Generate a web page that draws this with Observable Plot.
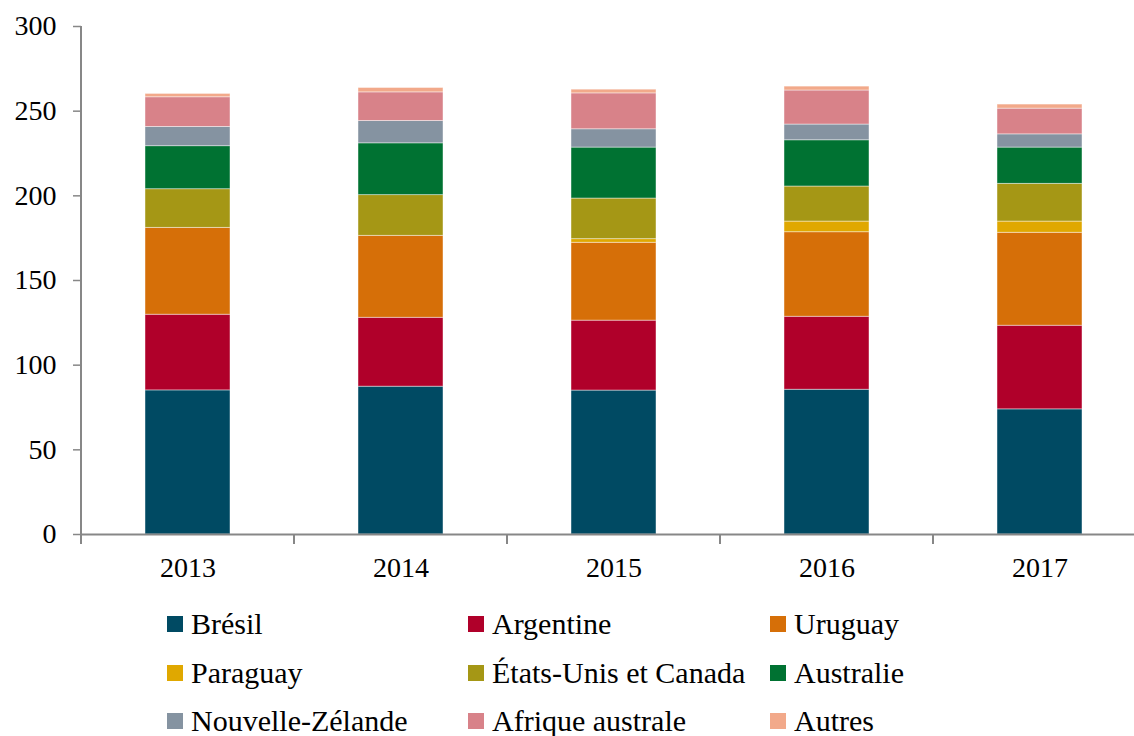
<!DOCTYPE html>
<html>
<head>
<meta charset="utf-8">
<script src="https://cdn.jsdelivr.net/npm/d3@7"></script>
<script src="https://cdn.jsdelivr.net/npm/@observablehq/plot@0.6"></script>
<style>
  html, body { margin: 0; padding: 0; background: #fff; overflow: hidden; }
  #wrap { width: 1134px; overflow: hidden; }
  #chart svg { max-width: none !important; display: block; }
  #legend {
    display: grid;
    grid-template-columns: 301px 302px 300px;
    grid-auto-rows: 48.5px;
    padding-left: 167px;
    padding-top: 6px;
    font-family: "Liberation Serif", "Times New Roman", serif;
    font-size: 30px;
    line-height: 30px;
    color: #000;
  }
  .item { display: flex; align-items: center; white-space: nowrap; }
  .sw { width: 16px; height: 16px; margin-right: 8px; flex: none; }
</style>
</head>
<body>
<div id="wrap"><div id="chart"></div><div id="legend"></div></div>
<script>
const years = ["2013", "2014", "2015", "2016", "2017"];
const seriesNames = ["Brésil", "Argentine", "Uruguay", "Paraguay", "États-Unis et Canada", "Australie", "Nouvelle-Zélande", "Afrique australe", "Autres"];
const colors = ["#004A63", "#B0002A", "#D66F08", "#E0A800", "#A59715", "#007232", "#8593A1", "#D88289", "#F2A98A"];

const bresil     = [85.1, 87.3, 85.0, 85.5, 73.9];
const argentine  = [44.7, 40.7, 41.3, 43.1, 49.4];
const uruguay    = [51.3, 48.4, 46.0, 49.9, 54.9];
const paraguay   = [0.0, 0.0, 2.1, 6.3, 6.6];
const etatsUnis  = [22.8, 24.0, 24.0, 20.7, 22.3];
const australie  = [25.4, 30.6, 30.1, 27.3, 21.4];
const nzelande   = [11.4, 13.2, 10.8, 9.3, 7.8];
const afrique    = [17.5, 16.9, 21.2, 20.1, 15.2];
const autres     = [2.0, 2.6, 2.2, 2.3, 2.4];
const yTicks = [0, 50, 100, 150, 200, 250, 300];

const valuesBySeries = [bresil, argentine, uruguay, paraguay, etatsUnis, australie, nzelande, afrique, autres];
const data = [];
seriesNames.forEach((s, si) => {
  years.forEach((y, yi) => data.push({year: y, series: s, value: valuesBySeries[si][yi]}));
});

const axisGray = "#878787";
const W = 1146, H = 594, mL = 81, mT = 26, mB = 60, mR = 0;
const serifFamily = "'Liberation Serif', 'Times New Roman', serif";

const chart = Plot.plot({
  width: W,
  height: H,
  marginLeft: mL,
  marginRight: mR,
  marginTop: mT,
  marginBottom: mB,
  style: {fontFamily: serifFamily, fontSize: "28px", color: "#000", background: "#fff", maxWidth: "none", overflow: "visible"},
  x: {domain: years, paddingInner: 0.6, paddingOuter: 0.3, label: null},
  y: {domain: [0, 300], label: null},
  color: {domain: seriesNames, range: colors},
  marks: [
    Plot.barY(data, {x: "year", y: "value", fill: "series", stroke: "#fff", strokeWidth: 0.8, strokeOpacity: 0.55}),
    Plot.axisY({ticks: yTicks, tickSize: 8, tickPadding: 17, stroke: axisGray, strokeWidth: 1.5, fill: "#000", label: null, fontSize: 28}),
    Plot.axisX({tickSize: 0, tickPadding: 23, fill: "#000", label: null, fontSize: 28}),
    Plot.ruleY([0], {stroke: axisGray, strokeWidth: 2})
  ]
});

// axis line and band-boundary ticks, placed from Plot's own scales
const xs = chart.scale("x"), ys = chart.scale("y");
const svg = d3.select(chart);
svg.style("max-width", "none");
const y0 = ys.apply(0), yTop = ys.apply(300);
const step = xs.step, bw = xs.bandwidth;
const bounds = years.map(d => xs.apply(d) - (step - bw) / 2);
bounds.push(bounds[bounds.length - 1] + step);
const g = svg.append("g").attr("stroke", axisGray).attr("stroke-width", 2);
g.append("line").attr("x1", bounds[0]).attr("x2", bounds[0]).attr("y1", yTop).attr("y2", y0 + 10);
bounds.forEach(bx => g.append("line").attr("x1", bx).attr("x2", bx).attr("y1", y0).attr("y2", y0 + 10));

document.getElementById("chart").appendChild(chart);

const legend = document.getElementById("legend");
seriesNames.forEach((s, i) => {
  const it = document.createElement("div");
  it.className = "item";
  const sw = document.createElement("span");
  sw.className = "sw";
  sw.style.background = colors[i];
  const tx = document.createElement("span");
  tx.textContent = s;
  it.appendChild(sw);
  it.appendChild(tx);
  legend.appendChild(it);
});
</script>
</body>
</html>
